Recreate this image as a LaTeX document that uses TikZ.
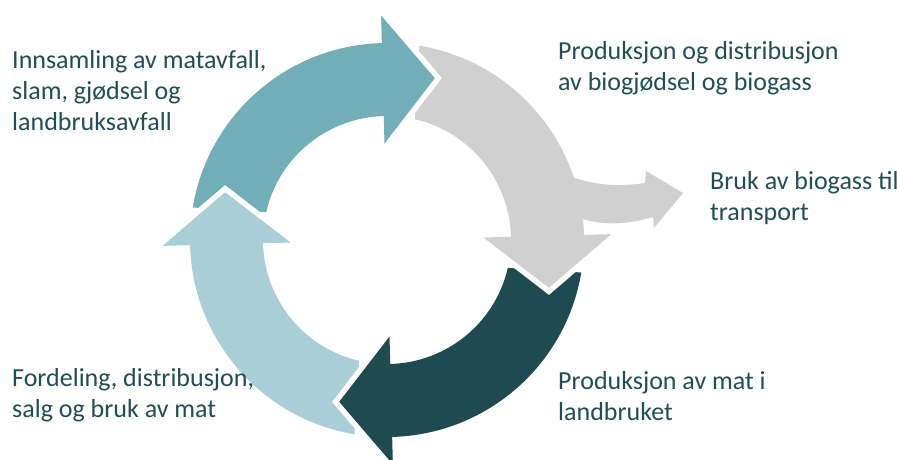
\documentclass[tikz,border=0pt]{standalone}
\usepackage{fontspec}
\setmainfont{Carlito}
\definecolor{tealarr}{HTML}{72AEB8}
\definecolor{greyarr}{HTML}{D0D0D0}
\definecolor{darkarr}{HTML}{1F4B50}
\definecolor{lightarr}{HTML}{A9CED5}
\definecolor{labeltxt}{HTML}{1F4E55}
\begin{document}
\begin{tikzpicture}[x=1pt,y=1pt,
	lbl/.style={anchor=base west, inner sep=0pt, align=left, text=labeltxt, font=\fontsize{26}{31}\selectfont}]
		\def\rout{197};
		\def\rin{124};
		\def\rmid{160.5};
		\def\hw{64};
		\def\hl{52};
		\def\ringpart#1#2{\fill[#1] (#2+79:\rout) arc[start angle=#2+79, end angle=#2-3, radius=\rout] -- (#2-3:\rin) arc[start angle=#2-3, end angle=#2+75.5, radius=\rin] -- cycle;}
		\def\ringtip#1#2{\draw[white, line width=11pt] (#2:\rmid+\hw) -- ([shift={(#2-90:\hl)}]#2:\rmid) -- (#2:\rmid-\hw);
			\fill[#1] (#2:\rmid+\hw) -- ([shift={(#2-90:\hl)}]#2:\rmid) -- (#2:\rmid-\hw) -- cycle;}
		\useasboundingbox (0,0) rectangle (897,459);
		\begin{scope}[shift={(387,219)}]
		% ring bodies
		\ringpart{tealarr}{91.5}
		\ringpart{greyarr}{1.5}
		\ringpart{darkarr}{-88.5}
		\ringpart{lightarr}{181.5}
		% branch to transport
		\fill[greyarr] (185,63) .. controls (213,53) and (238,54) .. (258,57) -- (259,69) -- (296,47) -- (267,12) -- (266,23) .. controls (243,16) and (218,14) .. (196,21) -- (196,4) -- (150,4) -- (150,60) -- cycle;
		% heads
		\ringtip{tealarr}{91.5}
		\ringtip{greyarr}{1.5}
		\ringtip{darkarr}{-88.5}
		\ringtip{lightarr}{181.5}
		\end{scope}
		% labels (anchored at the last line)
		\node[lbl] (collect) at (12,329) {Innsamling av matavfall,\\slam, gjødsel og\\landbruksavfall};
		\node[lbl] (biogas) at (558,369) {Produksjon og distribusjon\\av biogjødsel og biogass};
		\node[lbl] (transport) at (710,239) {Bruk av biogass til\\transport};
		\node[lbl] (sales) at (12,42) {Fordeling, distribusjon,\\salg og bruk av mat};
		\node[lbl] (farming) at (558,39) {Produksjon av mat i\\landbruket};
\end{tikzpicture}
\end{document}
